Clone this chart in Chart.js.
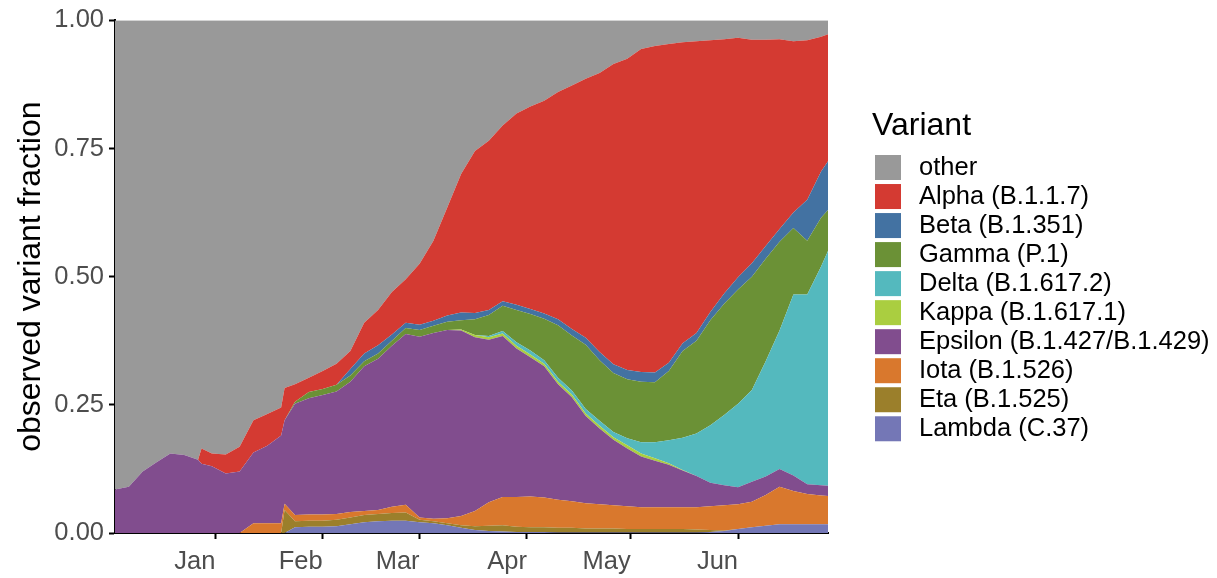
<!DOCTYPE html>
<html>
<head>
<meta charset="utf-8">
<script src="https://cdn.jsdelivr.net/npm/chart.js@4.4.1/dist/chart.umd.min.js"></script>
<style>
  html, body { margin: 0; padding: 0; background: #ffffff; }
  #wrap { width: 1217px; height: 578px; }
</style>
</head>
<body>
<div id="wrap"><canvas id="c" width="1217" height="578"></canvas></div>
<script>
// Days relative to 1 Jan 2021 (day 0 = Jan 1)
const days = [-29,-25,-21,-17,-13,-9,-5,-4,-1,3,7,11,15,19,20,23,27,31,35,39,43,47,51,55,59,63,67,71,75,79,83,87,91,95,99,103,107,111,115,119,123,127,131,135,139,143,147,151,155,159,163,167,171,175,177];

// Series values (fraction of sequences), stacked bottom -> top
const lambda = [0,0,0,0,0,0,0,0,0,0,0,0,0,0,0,.011,.012,.012,.013,.017,.021,.023,.024,.024,.021,.019,.015,.01,.006,.004,.003,.002,.002,.002,.001,.001,.001,.001,.001,.001,.001,.001,.001,.001,.001,.002,.004,.008,.011,.014,.017,.017,.017,.017,.017];
const eta = [0,0,0,0,0,0,0,0,0,0,0,0,0,0,.045,.012,.012,.012,.013,.013,.014,.014,.015,.016,.005,.004,.004,.005,.007,.01,.012,.01,.009,.009,.009,.009,.008,.008,.008,.007,.007,.007,.007,.007,.006,.004,.001,0,0,0,0,0,0,0,0];
const iota = [0,0,0,0,0,0,0,0,0,0,0,.019,.019,.019,.012,.012,.012,.012,.011,.011,.008,.008,.012,.015,.004,.005,.01,.018,.03,.046,.055,.058,.06,.058,.055,.052,.049,.047,.045,.044,.042,.042,.042,.042,.043,.046,.049,.048,.05,.06,.073,.065,.059,.056,.055];
const epsilon = [.085,.09,.12,.138,.155,.152,.143,.135,.13,.116,.12,.138,.151,.171,.163,.217,.227,.233,.239,.254,.282,.295,.314,.333,.353,.362,.367,.362,.339,.317,.314,.29,.272,.256,.225,.203,.17,.148,.128,.113,.099,.091,.083,.072,.061,.046,.039,.033,.039,.036,.035,.03,.019,.02,.02];
const kappa = [0,0,0,0,0,0,0,0,0,0,0,0,0,0,0,0,0,0,0,0,0,0,0,0,0,0,0,.002,.004,.005,.005,.005,.005,.005,.005,.005,.005,.005,.005,.006,.006,.005,.003,.001,0,0,0,0,0,0,0,0,0,0,0];
const delta = [0,0,0,0,0,0,0,0,0,0,0,0,0,0,0,0,0,0,0,0,0,0,0,0,0,0,0,0,0,.002,.005,.007,.008,.007,.008,.008,.009,.01,.01,.014,.022,.031,.045,.063,.083,.112,.137,.163,.179,.225,.27,.353,.37,.427,.458];
const gamma = [0,0,0,0,0,0,0,0,0,0,0,0,0,0,0,.004,.012,.012,.013,.012,.01,.01,.01,.012,.013,.014,.016,.018,.031,.041,.049,.063,.071,.081,.102,.107,.125,.118,.115,.115,.118,.117,.135,.169,.181,.205,.217,.223,.221,.2,.173,.13,.105,.095,.08];
const beta = [0,0,0,0,0,0,0,0,0,0,0,0,0,0,0,0,0,0,0,.013,.015,.016,.012,.01,.01,.01,.012,.015,.012,.01,.009,.01,.01,.01,.012,.013,.014,.016,.017,.018,.019,.019,.016,.015,.015,.016,.02,.024,.026,.025,.025,.03,.08,.09,.095];
const alpha = [0,0,0,0,0,0,0,.03,.025,.037,.048,.063,.062,.055,.063,.034,.028,.035,.041,.035,.06,.069,.083,.085,.119,.156,.211,.27,.316,.33,.343,.373,.395,.415,.443,.475,.505,.544,.586,.607,.63,.637,.622,.587,.569,.53,.496,.467,.436,.402,.37,.334,.311,.263,.248];
const other = [.915,.91,.88,.862,.845,.848,.857,.835,.845,.847,.832,.78,.768,.755,.717,.71,.697,.684,.67,.645,.59,.565,.53,.505,.475,.43,.365,.3,.255,.235,.205,.182,.168,.157,.14,.127,.114,.103,.085,.075,.056,.05,.046,.043,.041,.039,.037,.034,.038,.038,.037,.041,.039,.032,.027];

// Labels
const seriesNames = ['Lambda (C.37)','Eta (B.1.525)','Iota (B.1.526)','Epsilon (B.1.427/B.1.429)','Kappa (B.1.617.1)','Delta (B.1.617.2)','Gamma (P.1)','Beta (B.1.351)','Alpha (B.1.1.7)','other'];
const seriesColors = ['#7477B6','#9B7F2B','#D9782D','#814D8E','#AACE40','#54B9BE','#6B9136','#4372A2','#D43A32','#999999'];
const monthTickDays = [0,31,59,90,120,151];
const monthTickLabels = ['Jan','Feb','Mar','Apr','May','Jun'];
const yTickValues = [0,0.25,0.5,0.75,1];
const yTitle = 'observed variant fraction';
const legendTitle = 'Variant';

const seriesValues = [lambda, eta, iota, epsilon, kappa, delta, gamma, beta, alpha, other];
const FONT = '"Liberation Sans", Arial, sans-serif';

const datasets = seriesValues.map((vals, k) => ({
  label: seriesNames[k],
  data: days.map((d, i) => ({ x: d, y: vals[i] })),
  backgroundColor: seriesColors[k],
  borderColor: 'rgba(0,0,0,0)',
  borderWidth: 0,
  pointRadius: 0,
  pointHoverRadius: 0,
  tension: 0,
  fill: k === 0 ? 'origin' : '-1'
}));

const legendPlugin = {
  id: 'variantLegend',
  afterDraw(chart) {
    const ctx = chart.ctx;
    ctx.save();
    ctx.textAlign = 'left';
    ctx.fillStyle = '#000000';
    ctx.font = '32px ' + FONT;
    ctx.textBaseline = 'alphabetic';
    ctx.fillText(legendTitle, 872, 135);
    ctx.font = '25.5px ' + FONT;
    ctx.textBaseline = 'middle';
    for (let i = 0; i < seriesNames.length; i++) {
      const k = seriesNames.length - 1 - i;
      const y = 155 + i * 29.03;
      ctx.fillStyle = seriesColors[k];
      ctx.fillRect(875, y, 26, 25);
      ctx.fillStyle = '#000000';
      ctx.fillText(seriesNames[k], 919, y + 12.5);
    }
    ctx.restore();
  }
};

new Chart(document.getElementById('c'), {
  type: 'line',
  data: { datasets },
  plugins: [legendPlugin],
  options: {
    responsive: false,
    devicePixelRatio: 1,
    animation: false,
    events: [],
    layout: { padding: { top: 18, right: 389, left: 0, bottom: 0 } },
    plugins: { legend: { display: false }, tooltip: { enabled: false }, filler: { propagate: false } },
    scales: {
      x: {
        type: 'linear',
        min: -29,
        max: 177,
        afterBuildTicks: (s) => { s.ticks = monthTickDays.map(v => ({ value: v })); },
        afterFit: (s) => { s.height = 45; },
        ticks: {
          autoSkip: false,
          maxRotation: 0,
          align: 'end',
          padding: 8,
          color: '#4D4D4D',
          font: { family: FONT, size: 25.5 },
          callback: (v) => { const i = monthTickDays.indexOf(v); return i >= 0 ? monthTickLabels[i] : ''; }
        },
        grid: { display: true, drawOnChartArea: false, drawTicks: true, tickLength: 6, tickColor: '#000000', tickWidth: 2 },
        border: { display: true, color: '#000000', width: 2 }
      },
      y: {
        type: 'linear',
        stacked: true,
        min: 0,
        max: 1,
        afterBuildTicks: (s) => { s.ticks = yTickValues.map(v => ({ value: v })); },
        afterFit: (s) => { s.width = 115; },
        ticks: {
          padding: 5,
          color: '#4D4D4D',
          font: { family: FONT, size: 25.5 },
          callback: (v) => Number(v).toFixed(2)
        },
        title: {
          display: true,
          text: yTitle,
          color: '#000000',
          font: { family: FONT, size: 32 },
          padding: { top: 12, bottom: 0 }
        },
        grid: { display: true, drawOnChartArea: false, drawTicks: true, tickLength: 6, tickColor: '#000000', tickWidth: 2 },
        border: { display: true, color: '#000000', width: 2 }
      }
    }
  }
});
</script>
</body>
</html>
